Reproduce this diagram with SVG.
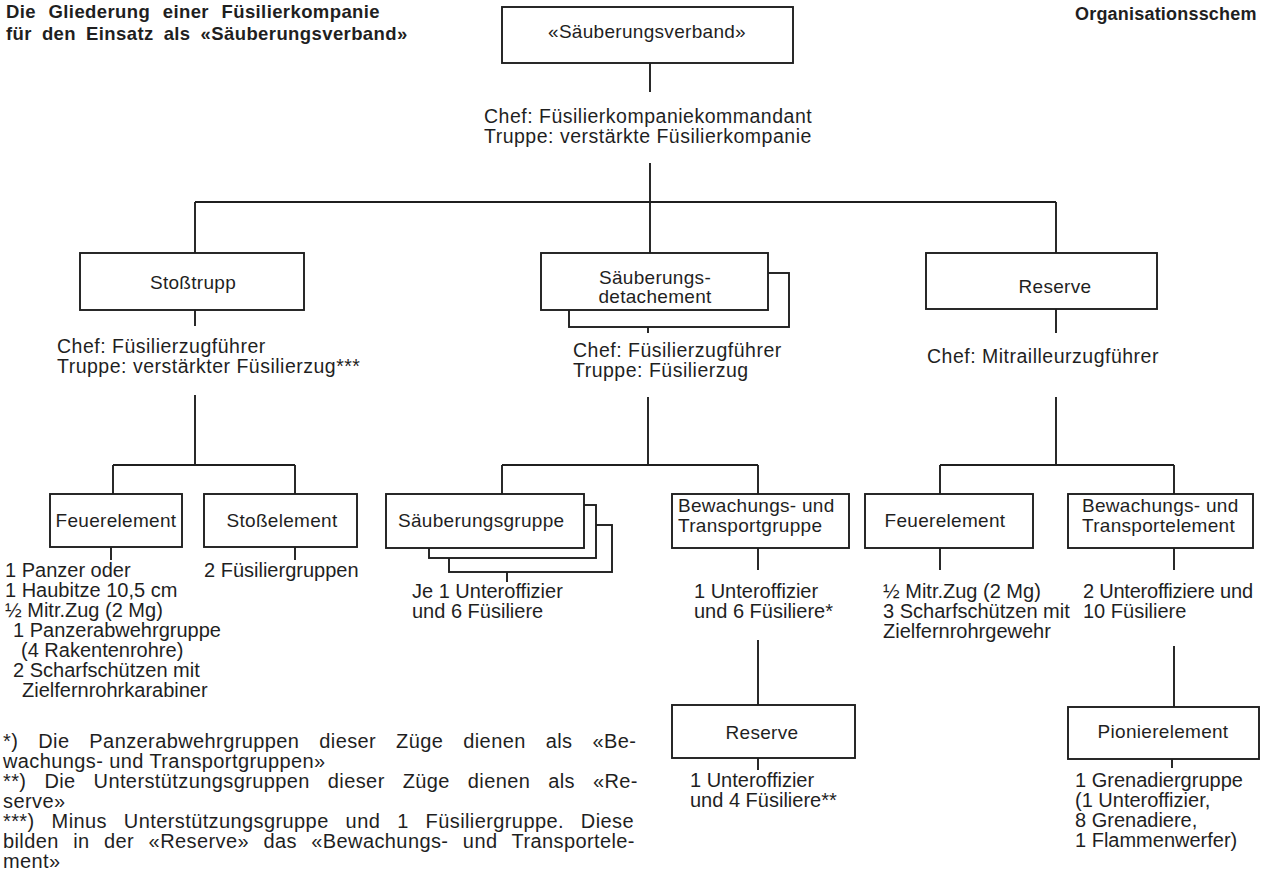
<svg xmlns="http://www.w3.org/2000/svg" width="1261" height="876" viewBox="0 0 1261 876">
<style>
  text { font-family: "Liberation Sans", Arial, sans-serif; fill: #1f1f1f; }
  .title { font-size: 18.5px; font-weight: bold; letter-spacing: 0.4px; }
  .lbl { font-size: 19px; letter-spacing: 0.3px; }
  .mid { text-anchor: middle; }
  .chef { font-size: 19.5px; letter-spacing: 0.5px; }
  .det { font-size: 20px; }
  .fn { font-size: 20px; letter-spacing: 0.4px; }
  .box { fill: #ffffff; stroke: #1f1f1f; stroke-width: 1.9; }
  .con line { stroke: #1f1f1f; stroke-width: 1.9; }
</style>
<rect x="0" y="0" width="1261" height="876" fill="#ffffff"/>

<g id="title">
  <text class="title" x="6" y="18" word-spacing="7">Die Gliederung einer Füsilierkompanie</text>
  <text class="title" x="6" y="40" word-spacing="4.5">für den Einsatz als «Säuberungsverband»</text>
  <text class="title" x="1075" y="20" style="font-size:18px;letter-spacing:0.2px">Organisationsschem</text>
</g>

<g class="con" id="connectors">
  <line x1="650" y1="63" x2="650" y2="92"/>
  <line x1="650" y1="163" x2="650" y2="253"/>
  <line x1="195" y1="202" x2="1056" y2="202"/>
  <line x1="195" y1="202" x2="195" y2="253"/>
  <line x1="1056" y1="202" x2="1056" y2="253"/>
  <line x1="195" y1="310" x2="195" y2="326"/>
  <line x1="195" y1="395" x2="195" y2="465"/>
  <line x1="113" y1="465" x2="295" y2="465"/>
  <line x1="113" y1="465" x2="113" y2="494"/>
  <line x1="295" y1="465" x2="295" y2="494"/>
  <line x1="111" y1="547" x2="111" y2="560"/>
  <line x1="295" y1="547" x2="295" y2="560"/>
  <line x1="648" y1="327" x2="648" y2="333"/>
  <line x1="648" y1="397" x2="648" y2="465"/>
  <line x1="502" y1="465" x2="758" y2="465"/>
  <line x1="502" y1="465" x2="502" y2="494"/>
  <line x1="758" y1="465" x2="758" y2="494"/>
  <line x1="507" y1="572" x2="507" y2="582"/>
  <line x1="758" y1="548" x2="758" y2="570"/>
  <line x1="758" y1="640" x2="758" y2="705"/>
  <line x1="758" y1="758" x2="758" y2="770"/>
  <line x1="1056" y1="309" x2="1056" y2="333"/>
  <line x1="1056" y1="397" x2="1056" y2="465"/>
  <line x1="940" y1="465" x2="1174" y2="465"/>
  <line x1="940" y1="465" x2="940" y2="494"/>
  <line x1="1174" y1="465" x2="1174" y2="494"/>
  <line x1="940" y1="548" x2="940" y2="570"/>
  <line x1="1174" y1="548" x2="1174" y2="570"/>
  <line x1="1174" y1="646" x2="1174" y2="707"/>
  <line x1="1172" y1="759" x2="1172" y2="768"/>
</g>

<g id="n-saeuberungsverband">
  <rect class="box" x="502" y="7" width="291" height="56"/>
  <text class="lbl mid" x="647" y="38">«Säuberungsverband»</text>
</g>
<g id="t-saeuberungsverband">
  <text class="chef" x="484" y="123">Chef:  Füsilierkompaniekommandant</text>
  <text class="chef" x="484" y="143">Truppe: verstärkte Füsilierkompanie</text>
</g>

<g id="n-stosstrupp">
  <rect class="box" x="80" y="253" width="224" height="57"/>
  <text class="lbl mid" x="193" y="289">Stoßtrupp</text>
</g>
<g id="t-stosstrupp">
  <text class="chef" x="57" y="353">Chef: Füsilierzugführer</text>
  <text class="chef" x="57" y="373">Truppe: verstärkter Füsilierzug***</text>
</g>

<g id="n-saeuberungsdetachement">
  <rect class="box" x="569" y="273" width="220" height="54"/>
  <rect class="box" x="541" y="253" width="227" height="57"/>
  <text class="lbl mid" x="655" y="284">Säuberungs-</text>
  <text class="lbl mid" x="655" y="303">detachement</text>
</g>
<g id="t-saeuberungsdetachement">
  <text class="chef" x="573" y="357">Chef: Füsilierzugführer</text>
  <text class="chef" x="573" y="377">Truppe: Füsilierzug</text>
</g>

<g id="n-reserve">
  <rect class="box" x="926" y="253" width="231" height="56"/>
  <text class="lbl mid" x="1055" y="293">Reserve</text>
</g>
<g id="t-reserve">
  <text class="chef" x="927" y="363">Chef: Mitrailleurzugführer</text>
</g>

<g id="n-feuerelement-1">
  <rect class="box" x="50" y="494" width="132" height="53"/>
  <text class="lbl mid" x="116" y="527">Feuerelement</text>
</g>
<g id="t-feuerelement-1">
  <text class="det" x="5" y="577">1 Panzer oder</text>
  <text class="det" x="5" y="597">1 Haubitze 10,5 cm</text>
  <text class="det" x="5" y="617">½ Mitr.Zug (2 Mg)</text>
  <text class="det" x="13" y="637">1 Panzerabwehrgruppe</text>
  <text class="det" x="21" y="657">(4 Rakentenrohre)</text>
  <text class="det" x="13" y="677">2 Scharfschützen mit</text>
  <text class="det" x="22" y="697">Zielfernrohrkarabiner</text>
</g>

<g id="n-stosselement">
  <rect class="box" x="204" y="494" width="153" height="53"/>
  <text class="lbl mid" x="282" y="527">Stoßelement</text>
</g>
<g id="t-stosselement">
  <text class="det" x="204" y="577">2 Füsiliergruppen</text>
</g>

<g id="n-saeuberungsgruppe">
  <rect class="box" x="449" y="525" width="163" height="47"/>
  <rect class="box" x="429" y="505" width="167" height="53"/>
  <rect class="box" x="386" y="494" width="198" height="54"/>
  <text class="lbl" x="398" y="527">Säuberungsgruppe</text>
</g>
<g id="t-saeuberungsgruppe">
  <text class="det" x="412" y="598">Je 1 Unteroffizier</text>
  <text class="det" x="412" y="618">und 6 Füsiliere</text>
</g>

<g id="n-bewachung-gruppe">
  <rect class="box" x="672" y="494" width="177" height="54"/>
  <text class="lbl" x="678" y="512">Bewachungs- und</text>
  <text class="lbl" x="678" y="532">Transportgruppe</text>
</g>
<g id="t-bewachung-gruppe">
  <text class="det" x="694" y="598">1 Unteroffizier</text>
  <text class="det" x="694" y="618">und 6 Füsiliere*</text>
</g>

<g id="n-reserve-2">
  <rect class="box" x="672" y="705" width="183" height="53"/>
  <text class="lbl mid" x="762" y="739">Reserve</text>
</g>
<g id="t-reserve-2">
  <text class="det" x="690" y="787">1 Unteroffizier</text>
  <text class="det" x="690" y="807">und 4 Füsiliere**</text>
</g>

<g id="n-feuerelement-2">
  <rect class="box" x="865" y="494" width="168" height="54"/>
  <text class="lbl mid" x="945" y="527">Feuerelement</text>
</g>
<g id="t-feuerelement-2">
  <text class="det" x="883" y="598">½ Mitr.Zug (2 Mg)</text>
  <text class="det" x="883" y="618">3 Scharfschützen mit</text>
  <text class="det" x="883" y="638">Zielfernrohrgewehr</text>
</g>

<g id="n-bewachung-element">
  <rect class="box" x="1068" y="494" width="185" height="54"/>
  <text class="lbl" x="1082" y="512">Bewachungs- und</text>
  <text class="lbl" x="1082" y="532">Transportelement</text>
</g>
<g id="t-bewachung-element">
  <text class="det" x="1083" y="598" textLength="170" lengthAdjust="spacing">2 Unteroffiziere und</text>
  <text class="det" x="1083" y="618">10 Füsiliere</text>
</g>

<g id="n-pionierelement">
  <rect class="box" x="1068" y="707" width="191" height="52"/>
  <text class="lbl mid" x="1163" y="738">Pionierelement</text>
</g>
<g id="t-pionierelement">
  <text class="det" x="1075" y="787">1 Grenadiergruppe</text>
  <text class="det" x="1075" y="807">(1 Unteroffizier,</text>
  <text class="det" x="1075" y="827">8 Grenadiere,</text>
  <text class="det" x="1075" y="847">1 Flammenwerfer)</text>
</g>

<g id="footnotes">
  <text class="fn" x="3" y="748" word-spacing="14">*) Die Panzerabwehrgruppen dieser Züge dienen als «Be-</text>
  <text class="fn" x="3" y="768">wachungs- und Transportgruppen»</text>
  <text class="fn" x="3" y="788" word-spacing="12">**) Die Unterstützungsgruppen dieser Züge dienen als «Re-</text>
  <text class="fn" x="3" y="808">serve»</text>
  <text class="fn" x="3" y="828" word-spacing="11">***) Minus Unterstützungsgruppe und 1 Füsiliergruppe. Diese</text>
  <text class="fn" x="3" y="848" word-spacing="8.5">bilden in der «Reserve» das «Bewachungs- und Transportele-</text>
  <text class="fn" x="3" y="868">ment»</text>
</g>
</svg>
